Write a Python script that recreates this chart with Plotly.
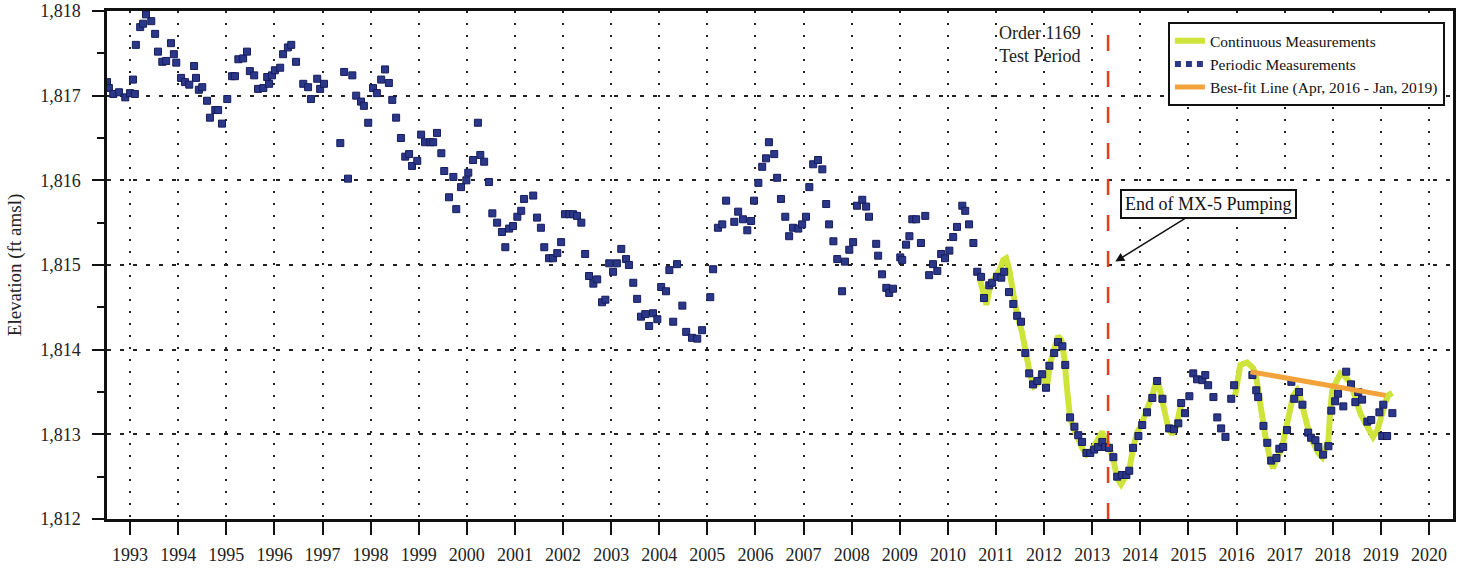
import plotly.graph_objects as go

# ---------------- data (decimal year, elevation ft amsl) ----------------
periodic_measurements = [
    (1992.52, 1817.16), (1992.56, 1817.09), (1992.65, 1817.02), (1992.77, 1817.04), (1992.90, 1816.98),
    (1993.00, 1817.03), (1993.06, 1817.19), (1993.10, 1817.02), (1993.12, 1817.60), (1993.21, 1817.81),
    (1993.27, 1817.85), (1993.33, 1817.96), (1993.44, 1817.88), (1993.52, 1817.73), (1993.58, 1817.52),
    (1993.67, 1817.40), (1993.75, 1817.41), (1993.85, 1817.62), (1993.91, 1817.49), (1993.96, 1817.39),
    (1994.06, 1817.21), (1994.14, 1817.16), (1994.23, 1817.13), (1994.33, 1817.35), (1994.37, 1817.21),
    (1994.43, 1817.07), (1994.50, 1817.10), (1994.60, 1816.94), (1994.66, 1816.74), (1994.77, 1816.83),
    (1994.83, 1816.83), (1994.91, 1816.67), (1995.02, 1816.96), (1995.12, 1817.23), (1995.18, 1817.23),
    (1995.25, 1817.43), (1995.35, 1817.44), (1995.43, 1817.52), (1995.49, 1817.29), (1995.58, 1817.24),
    (1995.66, 1817.08), (1995.77, 1817.09), (1995.85, 1817.22), (1995.89, 1817.14), (1995.95, 1817.24),
    (1996.01, 1817.30), (1996.12, 1817.33), (1996.18, 1817.49), (1996.28, 1817.57), (1996.35, 1817.60),
    (1996.45, 1817.40), (1996.60, 1817.14), (1996.70, 1817.10), (1996.76, 1816.96), (1996.89, 1817.20),
    (1996.95, 1817.08), (1997.03, 1817.14), (1997.37, 1816.44), (1997.45, 1817.28), (1997.53, 1816.02),
    (1997.62, 1817.24), (1997.70, 1817.00), (1997.80, 1816.93), (1997.86, 1816.88), (1997.95, 1816.68),
    (1998.05, 1817.09), (1998.13, 1817.03), (1998.22, 1817.19), (1998.30, 1817.31), (1998.38, 1817.15),
    (1998.45, 1816.95), (1998.53, 1816.74), (1998.63, 1816.50), (1998.72, 1816.28), (1998.80, 1816.31),
    (1998.86, 1816.17), (1998.97, 1816.23), (1999.05, 1816.54), (1999.13, 1816.45), (1999.24, 1816.45),
    (1999.30, 1816.45), (1999.38, 1816.56), (1999.47, 1816.32), (1999.53, 1816.11), (1999.63, 1815.80),
    (1999.72, 1816.04), (1999.78, 1815.66), (1999.88, 1815.92), (1999.99, 1816.00), (2000.03, 1816.09),
    (2000.13, 1816.24), (2000.23, 1816.68), (2000.28, 1816.30), (2000.36, 1816.22), (2000.46, 1815.98),
    (2000.53, 1815.61), (2000.63, 1815.50), (2000.73, 1815.39), (2000.80, 1815.21), (2000.88, 1815.43),
    (2000.96, 1815.46), (2001.05, 1815.57), (2001.13, 1815.64), (2001.19, 1815.78), (2001.38, 1815.82),
    (2001.46, 1815.56), (2001.54, 1815.44), (2001.61, 1815.21), (2001.71, 1815.08), (2001.79, 1815.08),
    (2001.88, 1815.14), (2001.96, 1815.27), (2002.04, 1815.60), (2002.13, 1815.60), (2002.21, 1815.60),
    (2002.29, 1815.58), (2002.38, 1815.50), (2002.46, 1815.13), (2002.54, 1814.87), (2002.63, 1814.78),
    (2002.71, 1814.83), (2002.81, 1814.56), (2002.88, 1814.59), (2002.96, 1815.02), (2003.04, 1814.92),
    (2003.12, 1815.02), (2003.21, 1815.19), (2003.31, 1815.07), (2003.37, 1815.00), (2003.46, 1814.79),
    (2003.54, 1814.60), (2003.62, 1814.39), (2003.71, 1814.42), (2003.79, 1814.28), (2003.87, 1814.43),
    (2003.96, 1814.36), (2004.04, 1814.74), (2004.14, 1814.69), (2004.21, 1814.94), (2004.29, 1814.33),
    (2004.37, 1815.01), (2004.48, 1814.52), (2004.56, 1814.21), (2004.68, 1814.14), (2004.79, 1814.13),
    (2004.89, 1814.23), (2005.06, 1814.62), (2005.12, 1814.95), (2005.22, 1815.44), (2005.31, 1815.48),
    (2005.39, 1815.76), (2005.56, 1815.51), (2005.64, 1815.63), (2005.74, 1815.54), (2005.83, 1815.41),
    (2005.91, 1815.52), (2005.97, 1815.76), (2006.06, 1815.97), (2006.14, 1816.16), (2006.22, 1816.26),
    (2006.28, 1816.45), (2006.39, 1816.31), (2006.45, 1816.03), (2006.53, 1815.78), (2006.62, 1815.57),
    (2006.70, 1815.34), (2006.78, 1815.44), (2006.89, 1815.43), (2006.97, 1815.48), (2007.05, 1815.57),
    (2007.12, 1815.92), (2007.20, 1816.19), (2007.30, 1816.24), (2007.39, 1816.13), (2007.47, 1815.72),
    (2007.53, 1815.48), (2007.62, 1815.28), (2007.70, 1815.07), (2007.80, 1814.69), (2007.86, 1815.04),
    (2007.95, 1815.18), (2008.03, 1815.27), (2008.11, 1815.70), (2008.22, 1815.77), (2008.30, 1815.69),
    (2008.36, 1815.57), (2008.51, 1815.25), (2008.55, 1815.11), (2008.63, 1814.89), (2008.72, 1814.73),
    (2008.78, 1814.67), (2008.86, 1814.72), (2009.01, 1815.09), (2009.05, 1815.06), (2009.13, 1815.24),
    (2009.20, 1815.34), (2009.26, 1815.54), (2009.34, 1815.54), (2009.44, 1815.26), (2009.53, 1815.58),
    (2009.61, 1814.88), (2009.69, 1815.01), (2009.78, 1814.93), (2009.86, 1815.13), (2009.94, 1815.08),
    (2010.03, 1815.17), (2010.11, 1815.33), (2010.19, 1815.45), (2010.30, 1815.70), (2010.36, 1815.64),
    (2010.44, 1815.48), (2010.53, 1815.26), (2010.61, 1814.92), (2010.69, 1814.86), (2010.75, 1814.61),
    (2010.86, 1814.76), (2010.92, 1814.79), (2011.02, 1814.86), (2011.11, 1814.85), (2011.17, 1814.92),
    (2011.27, 1814.68), (2011.36, 1814.54), (2011.44, 1814.40), (2011.52, 1814.33), (2011.61, 1813.96),
    (2011.69, 1813.72), (2011.77, 1813.59), (2011.86, 1813.63), (2011.96, 1813.71), (2012.04, 1813.55),
    (2012.11, 1813.81), (2012.21, 1813.96), (2012.29, 1814.09), (2012.38, 1814.04), (2012.44, 1813.82),
    (2012.54, 1813.20), (2012.63, 1813.09), (2012.71, 1812.99), (2012.79, 1812.91), (2012.88, 1812.78),
    (2012.96, 1812.78), (2013.04, 1812.82), (2013.12, 1812.85), (2013.21, 1812.91), (2013.27, 1812.85),
    (2013.35, 1812.84), (2013.44, 1812.73), (2013.52, 1812.50), (2013.62, 1812.52), (2013.71, 1812.52),
    (2013.77, 1812.57), (2013.85, 1812.84), (2013.96, 1812.98), (2014.04, 1813.11), (2014.14, 1813.26),
    (2014.25, 1813.43), (2014.35, 1813.63), (2014.46, 1813.42), (2014.60, 1813.07), (2014.70, 1813.06),
    (2014.79, 1813.13), (2014.85, 1813.37), (2014.93, 1813.25), (2015.02, 1813.45), (2015.10, 1813.72),
    (2015.18, 1813.65), (2015.29, 1813.64), (2015.35, 1813.70), (2015.41, 1813.58), (2015.52, 1813.44),
    (2015.60, 1813.20), (2015.68, 1813.07), (2015.77, 1812.97), (2015.89, 1813.42), (2015.95, 1813.58),
    (2016.33, 1813.70), (2016.41, 1813.52), (2016.45, 1813.44), (2016.56, 1813.10), (2016.64, 1812.90),
    (2016.72, 1812.69), (2016.83, 1812.72), (2016.89, 1812.83), (2016.97, 1812.85), (2017.05, 1813.05),
    (2017.14, 1813.62), (2017.20, 1813.42), (2017.30, 1813.50), (2017.37, 1813.35), (2017.49, 1813.02),
    (2017.55, 1812.96), (2017.64, 1812.93), (2017.70, 1812.85), (2017.80, 1812.76), (2017.91, 1812.86),
    (2017.97, 1813.28), (2018.05, 1813.39), (2018.11, 1813.48), (2018.22, 1813.33), (2018.28, 1813.74),
    (2018.38, 1813.59), (2018.47, 1813.38), (2018.53, 1813.50), (2018.61, 1813.41), (2018.72, 1813.15),
    (2018.80, 1813.17), (2018.97, 1813.26), (2019.03, 1812.98), (2019.05, 1813.35), (2019.13, 1812.98),
    (2019.24, 1813.25),
]
periodic_year = [p[0] for p in periodic_measurements]
periodic_elev = [p[1] for p in periodic_measurements]

# continuous transducer record (None = data gap 2015-2016)
continuous_year = [
    2010.67, 2010.73, 2010.80, 2010.86, 2010.92, 2011.00, 2011.09, 2011.15, 2011.21, 2011.27,
    2011.34, 2011.40, 2011.46, 2011.54, 2011.63, 2011.71, 2011.79, 2011.88, 2011.94, 2012.00,
    2012.06, 2012.13, 2012.21, 2012.29, 2012.36, 2012.42, 2012.48, 2012.54, 2012.63, 2012.71,
    2012.79, 2012.88, 2012.96, 2013.04, 2013.12, 2013.21, 2013.27, 2013.35, 2013.44, 2013.52,
    2013.60, 2013.69, 2013.77, 2013.85, 2013.94, 2014.02, 2014.10, 2014.19, 2014.27, 2014.35,
    2014.41, 2014.50, 2014.58, 2014.66, 2014.75, 2014.81, 2014.87, None,
    2015.97, 2016.08, 2016.22, 2016.35, 2016.41, 2016.49, 2016.60, 2016.70, 2016.76, 2016.85,
    2016.95, 2017.01, 2017.07, 2017.18, 2017.26, 2017.32, 2017.43, 2017.53, 2017.64, 2017.70,
    2017.78, 2017.84, 2017.91, 2017.95, 2017.99, 2018.09, 2018.16, 2018.26, 2018.36, 2018.47,
    2018.57, 2018.68, 2018.78, 2018.84, 2018.93, 2018.99, 2019.09, 2019.15, 2019.24,
]
continuous_elev = [
    1814.82, 1814.65, 1814.53, 1814.70, 1814.80, 1814.87, 1814.96, 1815.06, 1815.08, 1814.96,
    1814.68, 1814.53, 1814.37, 1814.21, 1813.94, 1813.70, 1813.57, 1813.61, 1813.74, 1813.64,
    1813.57, 1813.85, 1814.02, 1814.16, 1814.11, 1813.90, 1813.52, 1813.19, 1813.05, 1812.93,
    1812.84, 1812.76, 1812.79, 1812.86, 1812.96, 1813.03, 1812.93, 1812.86, 1812.70, 1812.48,
    1812.41, 1812.51, 1812.58, 1812.84, 1813.03, 1813.11, 1813.23, 1813.36, 1813.50, 1813.67,
    1813.52, 1813.31, 1813.08, 1813.00, 1813.10, 1813.26, 1813.38, None,
    1813.46, 1813.82, 1813.85, 1813.78, 1813.67, 1813.32, 1812.97, 1812.70, 1812.60, 1812.73,
    1812.85, 1813.02, 1813.20, 1813.46, 1813.52, 1813.44, 1813.20, 1812.97, 1812.85, 1812.78,
    1812.73, 1812.82, 1812.93, 1813.29, 1813.52, 1813.64, 1813.72, 1813.68, 1813.61, 1813.44,
    1813.25, 1813.13, 1813.03, 1812.97, 1813.05, 1813.20, 1813.37, 1813.46, 1813.49,
]

bestfit_year = [2016.29, 2019.10]
bestfit_elev = [1813.74, 1813.46]

order_1169_year = 2013.33

year_ticks = list(range(1993, 2021))
y_range = [1812, 1818]
x_range = [1992.52, 2020.5]

SERIF = "Liberation Serif, Times New Roman, serif"
NAVY = "#2b3788"

fig = go.Figure()
fig.add_trace(go.Scatter(
    x=continuous_year, y=continuous_elev, mode="lines", connectgaps=False,
    line=dict(color="#cfe43a", width=6), name="Continuous Measurements"))
fig.add_trace(go.Scatter(
    x=periodic_year, y=periodic_elev, mode="markers", showlegend=False,
    marker=dict(symbol="square", size=7, color=NAVY, line=dict(color="#161d5c", width=1)),
    name="Periodic Measurements"))
fig.add_trace(go.Scatter(
    x=[None], y=[None], mode="lines", name="Periodic Measurements",
    line=dict(color=NAVY, width=6, dash="6px,5px")))
fig.add_trace(go.Scatter(
    x=bestfit_year, y=bestfit_elev, mode="lines",
    line=dict(color="#f2a33c", width=5), name="Best-fit Line (Apr, 2016 - Jan, 2019)"))

fig.add_shape(type="line", xref="x", yref="paper", x0=order_1169_year, x1=order_1169_year,
              y0=0, y1=0.98, line=dict(color="#e0401c", width=2.5, dash="16px,20px"))

fig.add_annotation(x=2011.92, y=1817.60, xref="x", yref="y", text="Order 1169<br>Test Period",
                   showarrow=False, font=dict(family=SERIF, size=18, color="#222"), align="center")
fig.add_annotation(x=2013.48, y=1815.04, xref="x", yref="y", ax=2015.41, ay=1815.72,
                   axref="x", ayref="y", text="End of MX-5 Pumping", showarrow=True,
                   arrowhead=2, arrowsize=1.2, arrowwidth=1.5, arrowcolor="#111",
                   font=dict(family=SERIF, size=18, color="#111"),
                   bgcolor="white", bordercolor="#111", borderwidth=2, borderpad=3)

fig.update_layout(
    width=1473, height=569,
    margin=dict(l=107, r=20, t=11, b=50, autoexpand=False),
    paper_bgcolor="white", plot_bgcolor="white",
    font=dict(family=SERIF, color="#222"),
    legend=dict(x=0.994, xanchor="right", y=0.978, yanchor="top",
                bgcolor="white", bordercolor="#111", borderwidth=2,
                font=dict(family=SERIF, size=15.5, color="#111"),
                tracegroupgap=0, itemwidth=30),
    xaxis=dict(range=x_range, tickmode="array", tickvals=year_ticks,
               ticktext=[str(y) for y in year_ticks], automargin=False,
               ticks="outside", ticklen=13, tickwidth=2, tickcolor="#111",
               showline=True, linewidth=2.5, linecolor="#111", mirror=True,
               showgrid=True, gridcolor="#222", gridwidth=2, griddash="2px,10px",
               zeroline=False, ticklabelstandoff=5,
               tickfont=dict(family=SERIF, size=18, color="#222")),
    yaxis=dict(range=y_range, tickmode="linear", tick0=1812, dtick=1, tickformat=",.0f",
               automargin=False,
               ticks="outside", ticklen=12, tickwidth=1.5, tickcolor="#111",
               minor=dict(dtick=0.5, tick0=1812, ticks="outside", ticklen=7,
                          tickwidth=1.5, tickcolor="#111", showgrid=False),
               showline=True, linewidth=2.5, linecolor="#111", mirror=True,
               showgrid=True, gridcolor="#222", gridwidth=2, griddash="4px,9px",
               zeroline=False, ticklabelstandoff=8,
               tickfont=dict(family=SERIF, size=18, color="#222"),
               title=dict(text="Elevation (ft amsl)", standoff=14,
                          font=dict(family=SERIF, size=19, color="#222"))),
)

fig.write_html("out.html")
